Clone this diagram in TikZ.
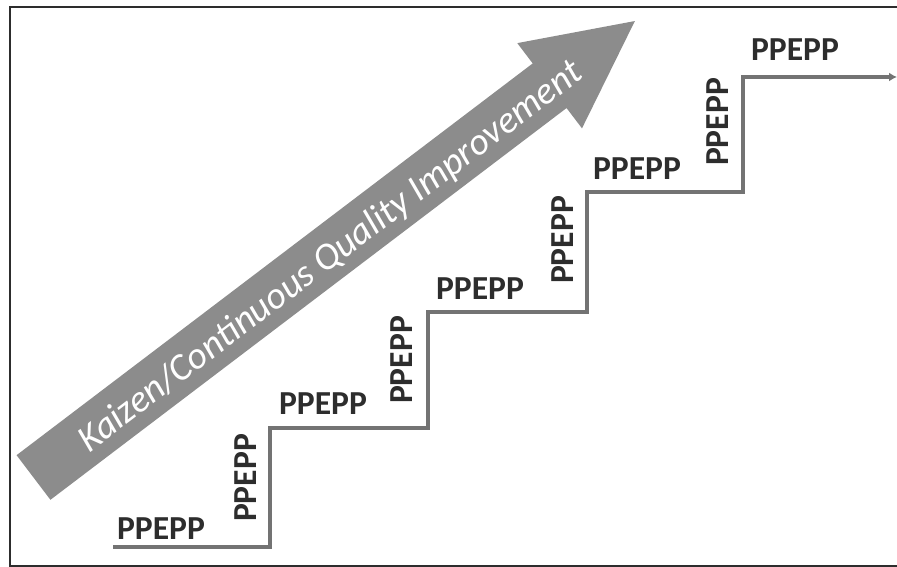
\documentclass[tikz,border=0pt]{standalone}
\usepackage{fontspec}
\setmainfont{Carlito}
\usetikzlibrary{arrows.meta}

\definecolor{bigarrow}{RGB}{140,140,140}
\definecolor{stairgray}{RGB}{115,115,115}
\definecolor{inkdark}{RGB}{45,45,45}

\begin{document}
\begin{tikzpicture}[
    x=1pt, y=1pt,
    frame/.style={draw=inkdark, line width=2pt},
    stair/.style={draw=stairgray, line width=4pt, -{Latex[length=8pt,width=9pt]}},
    steplabel/.style={font=\fontsize{33.6}{40}\selectfont\bfseries,
        text=inkdark, inner sep=0pt},
    riselabel/.style={steplabel, rotate=90}
]
    \useasboundingbox (0,0) rectangle (897,567);
    \fill[white] (0,0) rectangle (897,567);
    \draw[frame] (920,1) -- (10,1) -- (10,560) -- (920,560);

    % big arrow
    \begin{scope}[shift={(33.5,89.5)}, rotate=37.2]
        \fill[bigarrow] (0,-28) -- (648,-28) -- (648,-53.5) -- (755,0)
            -- (648,53.5) -- (648,28) -- (0,28) -- cycle;
        \node[font=\fontsize{38}{44}\selectfont\itshape, text=white,
            rotate=37.2, inner sep=0pt] (kaizen) at (370,-4)
            {Kaizen/Continuous Quality Improvement};
    \end{scope}

    % staircase
    \coordinate (s0) at (113,20);
    \coordinate (s1) at (270,20);
    \coordinate (s2) at (270,139);
    \coordinate (s3) at (428,139);
    \coordinate (s4) at (428,255);
    \coordinate (s5) at (587,255);
    \coordinate (s6) at (587,375);
    \coordinate (s7) at (743,375);
    \coordinate (s8) at (743,490);
    \coordinate (s9) at (897,490);
    \draw[stair] (s0) -- (s1) -- (s2) -- (s3) -- (s4) -- (s5)
        -- (s6) -- (s7) -- (s8) -- (s9);

    \node[steplabel] (tread1) at (161,38) {PPEPP};
    \node[steplabel] (tread2) at (323,163) {PPEPP};
    \node[steplabel] (tread3) at (480,278) {PPEPP};
    \node[steplabel] (tread4) at (637,398) {PPEPP};
    \node[steplabel] (tread5) at (795,517) {PPEPP};
    \node[riselabel] (rise1) at (246,89) {PPEPP};
    \node[riselabel] (rise2) at (402,207) {PPEPP};
    \node[riselabel] (rise3) at (563,327) {PPEPP};
    \node[riselabel] (rise4) at (718,445) {PPEPP};
\end{tikzpicture}
\end{document}
